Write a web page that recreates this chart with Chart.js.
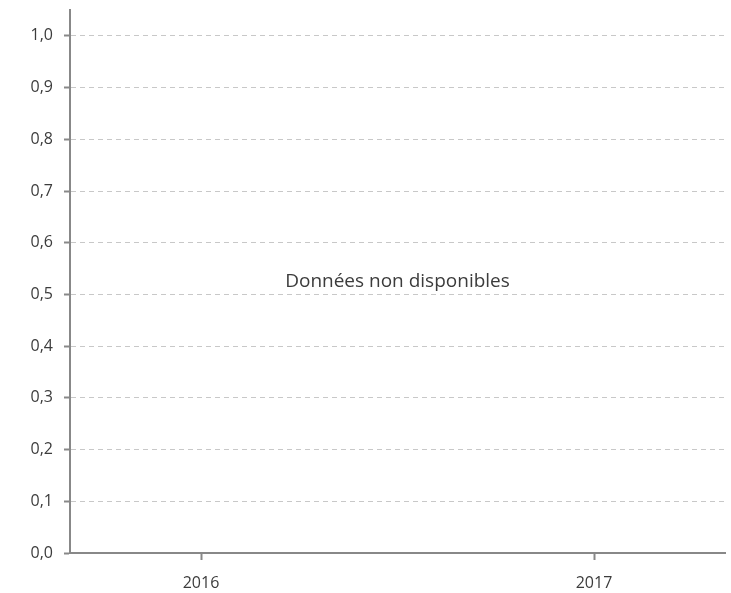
<!DOCTYPE html>
<html>
<head>
<meta charset="utf-8">
<script src="https://cdn.jsdelivr.net/npm/chart.js@4/dist/chart.umd.min.js"></script>
<style>
  html, body { margin: 0; padding: 0; background: #fff; }
  #wrap { width: 731px; height: 593px; }
</style>
</head>
<body>
<div id="wrap"><canvas id="myChart"></canvas></div>
<script>
// chart data (no values published for these years)
const years = ['2016', '2017'];
const values = [null, null];
const yTicks = [0, 0.1, 0.2, 0.3, 0.4, 0.5, 0.6, 0.7, 0.8, 0.9, 1.0];
const noDataText = 'Données non disponibles';

const font = 'Open Sans';

// writes the "no data" message in the middle of the plot area
const noDataPlugin = {
    id: 'noData',
    afterDraw(chart) {
        const area = chart.chartArea;
        const ctx = chart.ctx;
        ctx.save();
        ctx.font = '19px "' + font + '"';
        ctx.fillStyle = '#3c3c3c';
        ctx.textAlign = 'center';
        ctx.textBaseline = 'middle';
        ctx.fillText(noDataText, (area.left + area.right) / 2, (area.top + area.bottom) / 2);
        ctx.restore();
    }
};

const ctx = document.getElementById('myChart').getContext('2d');
window.myChart = new Chart(ctx, {
    type: 'line',
    data: {
        datasets: [{
            label: 'Valeur',
            data: years.map((y, i) => ({ x: i, y: values[i] })),
            borderColor: '#1f5fa8',
            fill: false
        }]
    },
    options: {
        responsive: true,
        maintainAspectRatio: false,
        animation: false,
        layout: { padding: { top: 10, right: 6, left: 0, bottom: 0 } },
        plugins: { legend: { display: false }, tooltip: { enabled: false } },
        scales: {
            x: {
                type: 'linear',
                min: -1 / 3,
                max: 4 / 3,
                afterBuildTicks: axis => { axis.ticks = years.map((y, i) => ({ value: i })); },
                afterFit: axis => {
                    axis.height = 40;
                    axis.paddingLeft = 0;
                    axis.paddingRight = 0;
                },
                ticks: {
                    callback: v => years[v],
                    color: '#3c3c3c',
                    font: { family: font, size: 16 },
                    padding: 14,
                    maxRotation: 0
                },
                grid: {
                    drawOnChartArea: false,
                    tickLength: 7,
                    tickColor: '#888',
                    tickWidth: 2
                },
                border: { color: '#888', width: 2 }
            },
            y: {
                min: 0,
                max: 1.05,
                afterBuildTicks: axis => { axis.ticks = yTicks.map(v => ({ value: v })); },
                afterFit: axis => {
                    axis.width = 70;
                    axis.paddingTop = 0;
                    axis.paddingBottom = 0;
                },
                ticks: {
                    callback: v => v.toFixed(1).replace('.', ','),
                    color: '#3c3c3c',
                    font: { family: font, size: 16 },
                    padding: 11
                },
                grid: {
                    color: '#c8c8c8',
                    lineWidth: 1,
                    tickLength: 6,
                    tickColor: '#888',
                    tickWidth: 2
                },
                border: { color: '#888', width: 2, dash: [5, 4] }
            }
        }
    },
    plugins: [noDataPlugin]
});
</script>
</body>
</html>
